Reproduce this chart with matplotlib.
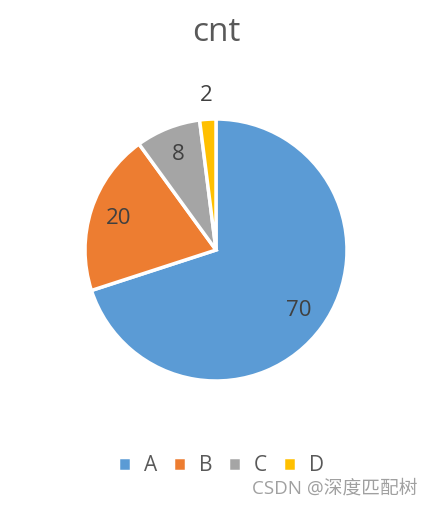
import matplotlib
matplotlib.use("Agg")
import matplotlib.pyplot as plt
import numpy as np

# data
categories = ['A', 'B', 'C', 'D']
values = [70, 20, 8, 2]
colors = ['#5B9BD5', '#ED7D31', '#A5A5A5', '#FFC000']

plt.rcParams['font.family'] = ['Open Sans', 'Noto Sans CJK SC', 'DejaVu Sans']

fig = plt.figure(figsize=(4.37, 5.07), dpi=100)
ax = fig.add_axes([85 / 437, 126 / 507, 262 / 437, 262 / 507])

wedges, texts = ax.pie(values, colors=colors, startangle=90, counterclock=False,
                       labels=[str(v) for v in values], labeldistance=0.78,
                       wedgeprops=dict(edgecolor='white', linewidth=2.5),
                       textprops=dict(fontsize=16, color='#404040'))
for t in texts:
    t.set_ha('center')
    t.set_va('center')

# the smallest slice gets its label outside
w = wedges[-1]
ang = np.deg2rad((w.theta1 + w.theta2) / 2)
texts[-1].set_position((1.18 * np.cos(ang), 1.18 * np.sin(ang)))

ax.set_xlim(-1.0, 1.0)
ax.set_ylim(-1.0, 1.0)

fig.text(0.495, 0.935, 'cnt', ha='center', va='center', fontsize=24, color='#595959')

leg = fig.legend(wedges, categories, loc='center', bbox_to_anchor=(0.505, 0.081),
                 ncol=4, frameon=False, fontsize=15, handlelength=0.65, handleheight=0.65,
                 handletextpad=0.6, columnspacing=0.75)
for t in leg.get_texts():
    t.set_color('#595959')

fig.text(0.767, 0.037, 'CSDN @深度匹配树', ha='center', va='center', fontsize=13.5,
         color='#a0a0a0')

fig.savefig('out.png', dpi=100)
